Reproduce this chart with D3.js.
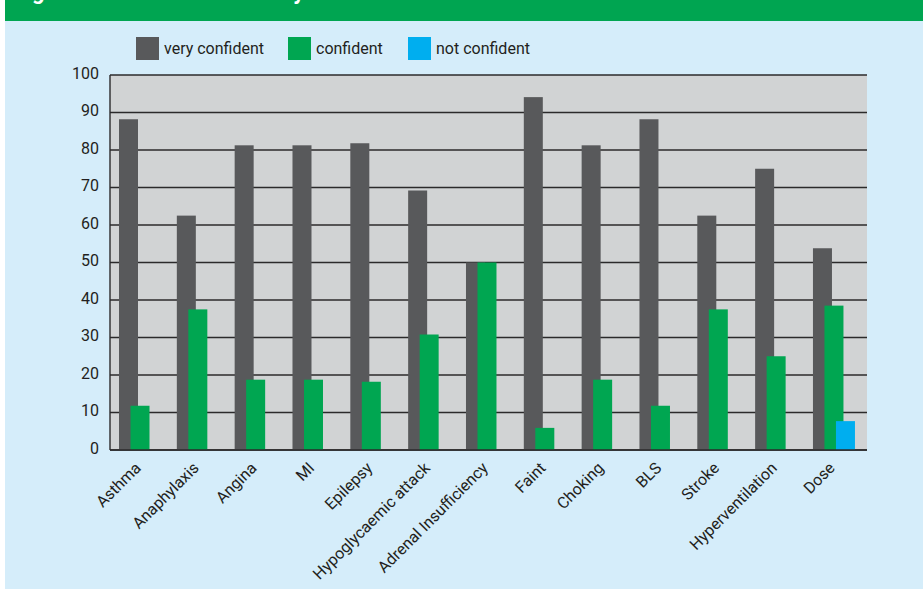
<!DOCTYPE html>
<html>
<head>
<meta charset="utf-8">
<script src="https://cdn.jsdelivr.net/npm/d3@7"></script>
<style>
  html, body { margin: 0; padding: 0; background: #ffffff; }
  svg { display: block; font-family: Roboto, "Open Sans", sans-serif; }
</style>
</head>
<body>
<svg id="chart" width="923" height="589"></svg>
<script>
// Emergencies, in the order they appear along the axis
const categories = ["Asthma", "Anaphylaxis", "Angina", "MI", "Epilepsy", "Hypoglycaemic attack",
  "Adrenal Insufficiency", "Faint", "Choking", "BLS", "Stroke", "Hyperventilation", "Dose"];

// Percentage of respondents at each confidence level
const veryConfident = [88.2, 62.5, 81.25, 81.25, 81.8, 69.2, 50, 94.1, 81.25, 88.2, 62.5, 75, 53.8];
const confident     = [11.8, 37.5, 18.75, 18.75, 18.2, 30.8, 50, 5.9, 18.75, 11.8, 37.5, 25, 38.5];
const notConfident  = [0, 0, 0, 0, 0, 0, 0, 0, 0, 0, 0, 0, 7.7];

const seriesNames = ["very confident", "confident", "not confident"];
const seriesColors = ["#58595b", "#00a651", "#00aeef"];
const yTicks = [0, 10, 20, 30, 40, 50, 60, 70, 80, 90, 100];
const titleText = "Figure 2 Confidence levels by scenario";

const seriesValues = [veryConfident, confident, notConfident];

const svg = d3.select("#chart");
const W = 923, H = 589;

// page background and header band (the title sits mostly above the top edge)
svg.append("rect").attr("x", 5).attr("y", 0).attr("width", W - 5).attr("height", H).attr("fill", "#d5edfa");
svg.append("rect").attr("x", 5).attr("y", 0).attr("width", W - 5).attr("height", 21).attr("fill", "#00a551");
svg.append("text").attr("x", 14).attr("y", -1)
  .attr("fill", "#ffffff").attr("font-size", 22).attr("font-weight", "bold")
  .text(titleText);

const plot = { left: 110, right: 867, top: 75, bottom: 450 };

const x = d3.scaleBand().domain(categories).range([plot.left, plot.left + 13 * 57.83]).padding(0);
const xs = d3.scaleBand().domain(seriesNames).range([9, 43.5]).padding(0);
const barW = 19;
const y = d3.scaleLinear().domain([0, 100]).range([plot.bottom, plot.top]);

// plot area
svg.append("rect").attr("x", plot.left).attr("y", plot.top)
  .attr("width", plot.right - plot.left).attr("height", plot.bottom - plot.top)
  .attr("fill", "#d1d3d4");

// gridlines
svg.append("g").selectAll("line").data(yTicks).join("line")
  .attr("x1", plot.left).attr("x2", plot.right)
  .attr("y1", d => y(d)).attr("y2", d => y(d))
  .attr("stroke", "#2b2a2b").attr("stroke-width", 1.4);

// left axis line
svg.append("line").attr("x1", plot.left).attr("x2", plot.left)
  .attr("y1", plot.top).attr("y2", plot.bottom)
  .attr("stroke", "#2b2a2b").attr("stroke-width", 1.4);

// bars
const rows = [];
categories.forEach((c, i) => {
  seriesNames.forEach((s, j) => {
    rows.push({ cat: c, series: s, value: seriesValues[j][i], color: seriesColors[j] });
  });
});
svg.append("g").selectAll("rect").data(rows.filter(d => d.value > 0)).join("rect")
  .attr("x", d => x(d.cat) + xs(d.series))
  .attr("y", d => y(d.value))
  .attr("width", barW)
  .attr("height", d => y(0) - y(d.value))
  .attr("fill", d => d.color);

// baseline drawn over the bars
svg.append("line").attr("x1", plot.left).attr("x2", plot.right)
  .attr("y1", y(0)).attr("y2", y(0))
  .attr("stroke", "#2b2a2b").attr("stroke-width", 1.4);

// y axis labels
const yAxis = d3.axisLeft(y).tickValues(yTicks).tickSize(0).tickPadding(11);
const gy = svg.append("g").attr("transform", `translate(${plot.left},0)`).call(yAxis);
gy.select(".domain").remove();
gy.selectAll("text").attr("font-size", 16).attr("fill", "#231f20")
  .attr("font-family", "Roboto, sans-serif").attr("dy", "0.2em");

// x axis labels, rotated
const xAxis = d3.axisBottom(x).tickSize(0).tickPadding(0);
const gx = svg.append("g").attr("transform", `translate(0,${plot.bottom})`).call(xAxis);
gx.select(".domain").remove();
gx.selectAll("text")
  .attr("font-size", 16).attr("fill", "#231f20").attr("font-family", "Roboto, sans-serif")
  .attr("text-anchor", "end").attr("dy", 0).attr("y", 0)
  .attr("transform", "translate(3,19) rotate(-45)");

// legend
const legendX = [136, 288, 408];
const lg = svg.append("g").selectAll("g").data(seriesNames).join("g")
  .attr("transform", (d, i) => `translate(${legendX[i]},37)`);
lg.append("rect").attr("width", 23).attr("height", 23).attr("fill", (d, i) => seriesColors[i]);
lg.append("text").attr("x", 28).attr("y", 17).attr("font-size", 16).attr("fill", "#231f20")
  .text(d => d);
</script>
</body>
</html>
